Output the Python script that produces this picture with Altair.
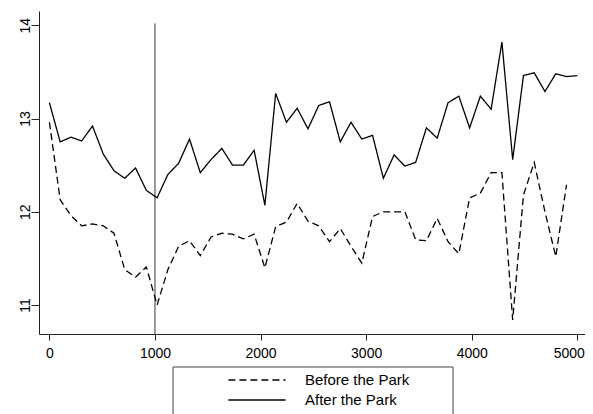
import altair as alt
import pandas as pd

# ---- data ----
series_names = ["Before the Park", "After the Park"]

x_before = [0, 102, 204, 306, 408, 510, 612, 714, 816, 918,
            1020, 1122, 1224, 1327, 1429, 1531, 1633, 1735, 1837, 1939,
            2041, 2143, 2245, 2347, 2449, 2551, 2653, 2755, 2857, 2959,
            3061, 3163, 3265, 3367, 3469, 3571, 3673, 3776, 3878, 3980,
            4082, 4184, 4286, 4388, 4490, 4592, 4694, 4796, 4898]
y_before = [12.96, 12.13, 11.96, 11.85, 11.87, 11.85, 11.77, 11.38, 11.30, 11.41,
            11.00, 11.38, 11.63, 11.69, 11.53, 11.73, 11.77, 11.76, 11.71, 11.76,
            11.40, 11.84, 11.89, 12.09, 11.90, 11.85, 11.68, 11.82, 11.63, 11.45,
            11.95, 12.00, 12.00, 12.00, 11.70, 11.69, 11.93, 11.68, 11.55, 12.15,
            12.20, 12.42, 12.42, 10.84, 12.18, 12.53, 12.00, 11.52, 12.29]

x_after = x_before + [5000]
y_after = [13.17, 12.75, 12.80, 12.76, 12.92, 12.62, 12.44, 12.36, 12.47, 12.23,
           12.15, 12.40, 12.52, 12.78, 12.42, 12.56, 12.68, 12.50, 12.50, 12.66,
           12.07, 13.27, 12.96, 13.11, 12.89, 13.14, 13.18, 12.75, 12.96, 12.78,
           12.82, 12.36, 12.61, 12.49, 12.53, 12.90, 12.79, 13.17, 13.24, 12.90,
           13.24, 13.10, 13.82, 12.56, 13.46, 13.49, 13.29, 13.48, 13.45, 13.46]

vline_x = [1000]
vline_top = [14.02]

x_ticks = [0, 1000, 2000, 3000, 4000, 5000]
y_ticks = [11, 12, 13, 14]
x_domain = [-98.5, 5073]
y_domain = [10.69, 14.153]

# ---- tables ----
df = pd.concat([
    pd.DataFrame({"x": x_before, "y": y_before, "series": series_names[0]}),
    pd.DataFrame({"x": x_after, "y": y_after, "series": series_names[1]}),
], ignore_index=True)

vdf = pd.DataFrame({"x": vline_x, "y0": [y_domain[0]], "y1": vline_top})

FONT = "Liberation Sans"

xscale = alt.Scale(domain=x_domain, nice=False, zero=False)
yscale = alt.Scale(domain=y_domain, nice=False, zero=False)

# last x label would run past the page edge: right-align it near its tick
x_axis = alt.Axis(values=x_ticks, title=None, grid=False, format="d",
                  tickSize=6, labelPadding=6, labelFontSize=14,
                  labelAlign={"expr": "datum.value >= 5000 ? 'right' : 'center'"},
                  labelOffset={"expr": "datum.value >= 5000 ? 7 : 0"})
y_axis = alt.Axis(values=y_ticks, title=None, grid=False, format="d",
                  tickSize=8, labelPadding=2, labelAngle=270,
                  labelAlign="center", labelBaseline="alphabetic", labelFontSize=14)

rule = alt.Chart(vdf).mark_rule(color="#333333", strokeWidth=1).encode(
    x=alt.X("x:Q", scale=xscale, axis=x_axis),
    y=alt.Y("y0:Q", scale=yscale, axis=y_axis),
    y2="y1:Q",
)

# long horizontal stroke symbol: layout uses sqrt(size)=22 px, drawn 57 px wide
LEGEND_SYMBOL = "M-2.6,0L2.6,0"

lines = alt.Chart(df).mark_line(color="black", strokeWidth=1.3).encode(
    x=alt.X("x:Q", scale=xscale, axis=x_axis),
    y=alt.Y("y:Q", scale=yscale, axis=y_axis),
    strokeDash=alt.StrokeDash(
        "series:N",
        scale=alt.Scale(domain=series_names, range=[[7, 4], [1, 0]]),
        legend=alt.Legend(
            title=None, orient="none", legendX=206, legendY=357,
            direction="vertical", symbolType=LEGEND_SYMBOL, symbolSize=484,
            symbolStrokeWidth=1.5, symbolStrokeColor="black",
            labelFont=FONT, labelFontSize=15, labelColor="black",
            labelOffset=36, rowPadding=0, padding=0,
        ),
    ),
)

box = alt.Chart(pd.DataFrame({"k": [0]})).mark_rect(
    fillOpacity=0, stroke="#444444", strokeWidth=1
).encode(
    x=alt.value(134), x2=alt.value(414), y=alt.value(356), y2=alt.value(440)
)

chart = alt.layer(rule, lines, box).properties(
    width=546, height=323,
    autosize="none",
    padding={"left": 31, "top": 3, "right": 0, "bottom": 80},
).configure_view(stroke=None).configure_axis(
    domainColor="#222222", tickColor="#222222", labelColor="black",
    labelFont=FONT, domainWidth=1, tickWidth=1,
)

chart.save("out.html", embed_options={"renderer": "svg", "actions": False})
